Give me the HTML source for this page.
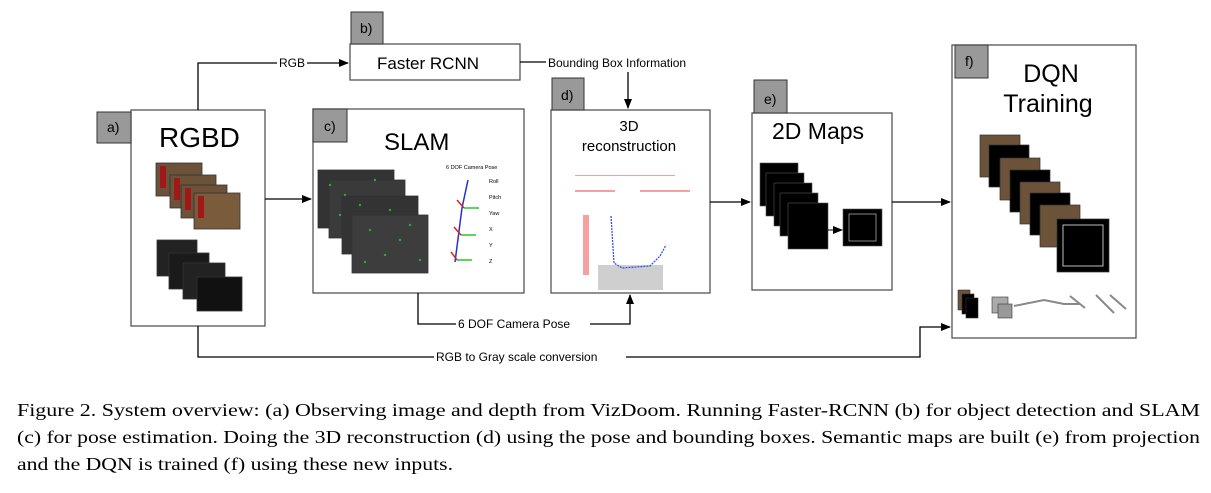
<!DOCTYPE html>
<html><head><meta charset="utf-8"><style>
html,body{margin:0;padding:0;background:#fff;width:1211px;height:493px;overflow:hidden}
svg{display:block}
.s{font-family:"Liberation Sans",sans-serif;fill:#000}
.c{font-family:"Liberation Serif",serif;font-size:17.5px;fill:#000}
</style></head><body>
<svg width="1211" height="493" viewBox="0 0 1211 493">
<defs><marker id="ar" markerWidth="10" markerHeight="8" refX="9" refY="4" orient="auto" markerUnits="userSpaceOnUse"><path d="M0,0L10,4L0,8Z" fill="#000"/></marker></defs>
<g fill="#fff" stroke="#555" stroke-width="1.3">
<rect x="131" y="110" width="134" height="216"/>
<rect x="350" y="44" width="170" height="36"/>
<rect x="313" y="109" width="211" height="184"/>
<rect x="551" y="110" width="159" height="183"/>
<rect x="752" y="113" width="140" height="177"/>
<rect x="952" y="45" width="184" height="293"/>
</g>
<g fill="#999" stroke="#333" stroke-width="1">
<rect x="97" y="112" width="34" height="31"/>
<rect x="351" y="12" width="32" height="32"/>
<rect x="313" y="109" width="34" height="33"/>
<rect x="552" y="78" width="32" height="32"/>
<rect x="754" y="80" width="33" height="33"/>
<rect x="955" y="45" width="33" height="33"/>
</g>
<g class="s" font-size="14">
<text x="107" y="132">a)</text><text x="360" y="33">b)</text><text x="324" y="131">c)</text>
<text x="561" y="100">d)</text><text x="764" y="104">e)</text><text x="965" y="66">f)</text>
</g>
<text class="s" x="159" y="147" font-size="28">RGBD</text>
<text class="s" x="377" y="69" font-size="17">Faster RCNN</text>
<text class="s" x="384" y="150" font-size="24">SLAM</text>
<text class="s" x="629" y="131" font-size="15" text-anchor="middle">3D</text>
<text class="s" x="629" y="151" font-size="15" text-anchor="middle">reconstruction</text>
<text class="s" x="772" y="139" font-size="23">2D Maps</text>
<text class="s" x="1051" y="82" font-size="25" text-anchor="middle">DQN</text>
<text class="s" x="1048" y="112" font-size="25" text-anchor="middle">Training</text>
<!-- RGB images -->
<g stroke="#333" stroke-width="0.8">
<rect x="156" y="163" width="46" height="33" fill="#6b5238"/><rect x="170" y="175" width="46" height="33" fill="#6b5238"/>
<rect x="181" y="185" width="46" height="33" fill="#6b5238"/><rect x="194" y="193" width="46" height="36" fill="#7a5c3c"/>
</g>
<g fill="#a01818"><rect x="160" y="166" width="6" height="22"/><rect x="174" y="178" width="6" height="22"/><rect x="185" y="188" width="6" height="22"/><rect x="198" y="196" width="6" height="22"/></g>
<!-- depth -->
<g stroke="#333" stroke-width="0.8">
<rect x="157" y="240" width="40" height="36" fill="#222"/><rect x="169" y="253" width="40" height="36" fill="#1a1a1a"/>
<rect x="183" y="263" width="42" height="36" fill="#222"/><rect x="197" y="277" width="45" height="34" fill="#111"/>
</g>
<!-- SLAM images -->
<g stroke="#333" stroke-width="0.8">
<rect x="318" y="170" width="76" height="58" fill="#333"/><rect x="329" y="180" width="76" height="58" fill="#3a3a3a"/>
<rect x="342" y="196" width="76" height="58" fill="#333"/><rect x="352" y="215" width="76" height="58" fill="#3d3d3d"/>
</g>
<g fill="#2c2" opacity="0.8">
<circle cx="330" cy="185" r="1.2"/><circle cx="345" cy="195" r="1.2"/><circle cx="360" cy="205" r="1.2"/><circle cx="375" cy="180" r="1.2"/><circle cx="390" cy="210" r="1.2"/><circle cx="370" cy="230" r="1.2"/><circle cx="400" cy="240" r="1.2"/><circle cx="385" cy="255" r="1.2"/><circle cx="410" cy="225" r="1.2"/><circle cx="365" cy="262" r="1.2"/><circle cx="420" cy="260" r="1.2"/><circle cx="340" cy="215" r="1.2"/>
</g>
<g class="s" font-size="5.5" fill="#333"><text x="446" y="169">6 DOF Camera Pose</text><text x="489" y="183">Roll</text><text x="489" y="199">Pitch</text><text x="489" y="215">Yaw</text><text x="489" y="231">X</text><text x="489" y="247">Y</text><text x="489" y="263">Z</text></g>
<g stroke-width="1.5"><path d="M468 180L462 208L455 262" stroke="#23c" fill="none"/><path d="M464 208h15M461 235h15M457 260h15" stroke="#2c2"/><path d="M464 208l-7-8M461 235l-7-8M457 260l-6-8" stroke="#d22"/></g>
<!-- 3D recon -->
<g fill="#e44" opacity="0.5"><rect x="575" y="190" width="40" height="2"/><rect x="640" y="190" width="50" height="2"/><rect x="583" y="215" width="6" height="60"/><rect x="575" y="175" width="100" height="1"/></g>
<rect x="598" y="265" width="65" height="25" fill="#888" opacity="0.4"/>
<path d="M611 216L614 263L622 268L650 266L660 256L666 245" stroke="#35e" stroke-width="1.3" fill="none" stroke-dasharray="2 1"/>
<!-- 2D maps -->
<g stroke="#555" stroke-width="0.6" fill="#000">
<rect x="760" y="163" width="38" height="43"/><rect x="766" y="173" width="38" height="43"/><rect x="774" y="183" width="38" height="43"/><rect x="780" y="193" width="38" height="43"/><rect x="788" y="203" width="40" height="46"/>
<rect x="843" y="209" width="39" height="37"/>
</g>
<rect x="849" y="214" width="27" height="27" fill="none" stroke="#aaa" stroke-width="0.8"/>
<path d="M828 230h14" stroke="#000" marker-end="url(#ar)"/>
<!-- DQN images -->
<g stroke="#333" stroke-width="0.7">
<rect x="980" y="135" width="40" height="42" fill="#6b5238"/><rect x="989" y="145" width="40" height="42" fill="#000"/>
<rect x="1000" y="158" width="40" height="42" fill="#6b5238"/><rect x="1010" y="170" width="40" height="42" fill="#000"/>
<rect x="1020" y="182" width="40" height="42" fill="#6b5238"/><rect x="1030" y="193" width="40" height="42" fill="#000"/>
<rect x="1040" y="205" width="40" height="42" fill="#6b5238"/><rect x="1057" y="219" width="52" height="53" fill="#000"/>
</g>
<rect x="1063" y="225" width="40" height="41" fill="none" stroke="#bbb" stroke-width="1"/>
<g stroke="#333" stroke-width="0.6"><rect x="958" y="290" width="12" height="20" fill="#6b5238"/><rect x="962" y="294" width="12" height="20" fill="#000"/><rect x="966" y="298" width="12" height="20" fill="#000"/><rect x="992" y="297" width="16" height="16" fill="#aaa"/><rect x="998" y="304" width="14" height="14" fill="#999"/></g>
<path d="M1014 306l30-6l20 4l16 0M1070 296l15 12M1096 295l18 18M1110 295l16 14" stroke="#888" stroke-width="2" fill="none"/>
<!-- connectors -->
<g stroke="#000" stroke-width="1.3" fill="none">
<path d="M198 110V63H348" marker-end="url(#ar)"/>
<path d="M265 199H311" marker-end="url(#ar)"/>
<path d="M520 62H546"/>
<path d="M628 72V108" marker-end="url(#ar)"/>
<path d="M418 293V324H630V295" marker-end="url(#ar)"/>
<path d="M710 202H750" marker-end="url(#ar)"/>
<path d="M892 202H950" marker-end="url(#ar)"/>
<path d="M198 326V357H920V327H950" marker-end="url(#ar)"/>
</g>
<g class="s" font-size="12">
<rect x="277" y="55" width="30" height="14" fill="#fff"/><text x="279" y="67">RGB</text>
<text x="548" y="67">Bounding Box Information</text>
<rect x="456" y="316" width="134" height="15" fill="#fff"/><text x="458" y="328">6 DOF Camera Pose</text>
<rect x="434" y="349" width="192" height="15" fill="#fff"/><text x="436" y="361">RGB to Gray scale conversion</text>
</g>
<text class="c" x="17" y="416" textLength="1183" lengthAdjust="spacingAndGlyphs">Figure 2.  System overview: (a) Observing image and depth from VizDoom. Running Faster-RCNN (b) for object detection and SLAM</text>
<text class="c" x="17" y="443" textLength="1183" lengthAdjust="spacingAndGlyphs">(c) for pose estimation. Doing the 3D reconstruction (d) using the pose and bounding boxes. Semantic maps are built (e) from projection</text>
<text class="c" x="17" y="470" textLength="436" lengthAdjust="spacingAndGlyphs">and the DQN is trained (f) using these new inputs.</text>
</svg>
</body></html>
